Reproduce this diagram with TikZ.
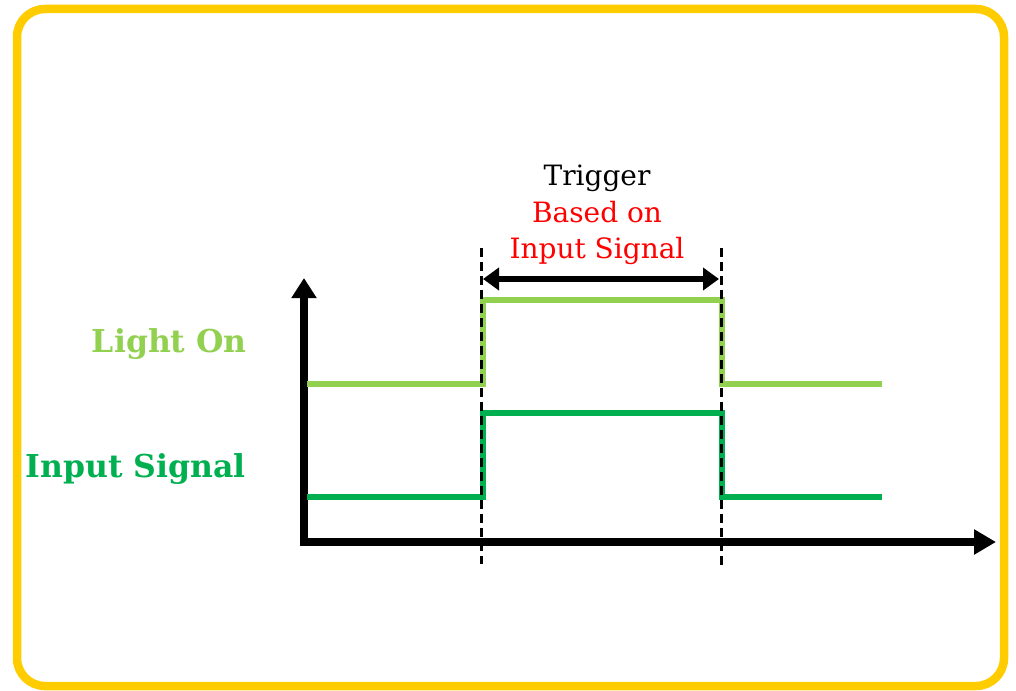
\documentclass[tikz,border=0pt]{standalone}
\usepackage{fontspec}
\setmainfont{DejaVu Serif}
\usetikzlibrary{positioning,arrows.meta}
\definecolor{frameyellow}{HTML}{FFCC00}
\definecolor{lightgreen}{HTML}{92D050}
\definecolor{darkgreen}{HTML}{00B050}
\tikzset{>=latex}

\begin{document}
\begin{tikzpicture}[x=1pt, y=-1pt, line join=miter,
    axis/.style={draw=black, line width=8.5pt, {Triangle[length=20pt,width=24pt]}-{Triangle[length=22pt,width=24pt]}},
    light/.style={draw=lightgreen, line width=6pt},
    input/.style={draw=darkgreen, line width=6pt},
    marker/.style={draw=black, line width=3pt, dash pattern=on 9pt off 5pt},
    span/.style={draw=black, line width=6pt, {Triangle[length=16pt,width=22pt]}-{Triangle[length=16pt,width=22pt]}},
    caption/.style={font=\fontsize{28}{36}\selectfont, anchor=base, inner sep=0pt},
    lbl/.style={font=\fontsize{31.5}{36}\selectfont\bfseries, anchor=base east, inner sep=0pt}]
    \useasboundingbox (0,0) rectangle (1016,690);
    \draw [frameyellow, line width=8.5pt, rounded corners=28pt] (17,9) rectangle (1004,686);

    % axes
    \coordinate (y_top) at (304,278);
    \coordinate (x_end) at (996,542);
    \path [axis] (y_top) |- (x_end);

    % light on
    \coordinate (l_start) at (307,384);
    \coordinate (l_up) at (483,300);
    \coordinate (l_down) at (722,384);
    \coordinate (l_end) at (882,384);
    \path [light] (l_start) -| (l_up) -| (l_down) -- (l_end);

    % input signal
    \coordinate (i_start) at (307,497);
    \coordinate (i_up) at (483,413);
    \coordinate (i_down) at (722,497);
    \coordinate (i_end) at (882,497);
    \path [input] (i_start) -| (i_up) -| (i_down) -- (i_end);

    % trigger markers
    \coordinate (on_top) at (481,248);
    \coordinate (on_bot) at (481,564);
    \coordinate (off_top) at (721,248);
    \coordinate (off_bot) at (721,565);
    \path [marker] (on_top) -- (on_bot);
    \path [marker] (off_top) -- (off_bot);

    \coordinate (span_l) at (483,279);
    \coordinate (span_r) at (719,279);
    \path [span] (span_l) -- (span_r);

    \node [caption] (trigger) at (597,185) {Trigger};
    \node [caption, text=red] (based) at (597,222) {Based on};
    \node [caption, text=red] (input_sig) at (597,258) {Input Signal};

    \node [lbl, text=lightgreen] (light_on) at (247,352) {Light On};
    \node [lbl, text=darkgreen] (input_lbl) at (246,477) {Input Signal};
\end{tikzpicture}
\end{document}
